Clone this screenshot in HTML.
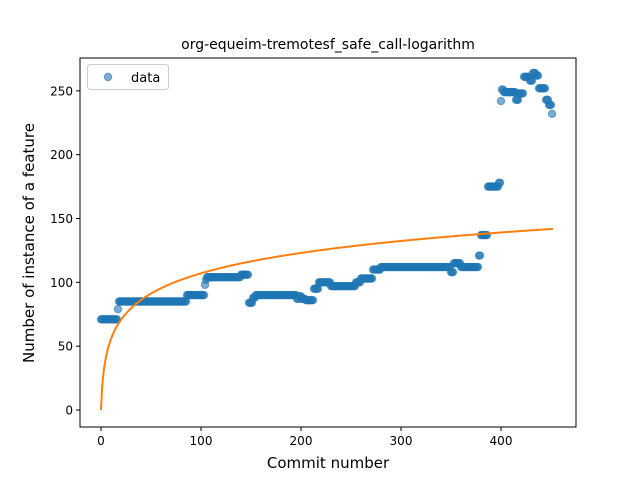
<!DOCTYPE html>
<html><head><meta charset="utf-8"><style>
html,body{margin:0;padding:0;background:#fff;}
svg{display:block;font-family:"DejaVu Sans","Liberation Sans",sans-serif;}
</style></head><body>
<svg id="chart" width="640" height="480" xmlns="http://www.w3.org/2000/svg">
<rect x="0" y="0" width="640" height="480" fill="#fff"/>
<text x="328" y="49" text-anchor="middle" font-size="14">org-equeim-tremotesf_safe_call-logarithm</text>
<g id="plot"></g>
<g id="axes"></g>
<text x="328" y="468" text-anchor="middle" font-size="15">Commit number</text>
<text transform="translate(34,243) rotate(-90)" text-anchor="middle" font-size="15">Number of instance of a feature</text>
<g>
<rect x="87.5" y="64.5" width="81" height="25" rx="3" fill="#fff" fill-opacity="0.8" stroke="#ccc"/>
<circle cx="108" cy="77" r="3.7" fill="#1f77b4" fill-opacity="0.6" stroke="#1f77b4" stroke-opacity="0.6" stroke-width="1"/>
<text x="131" y="82" font-size="13">data</text>
</g>
</svg>
<script>
// Data as runs of consecutive commits with constant value
const runStart = [0,17,18,86,104,105,106,140,148,152,155,196,198,201,205,213,218,230,255,260,272,280,350,353,360,378,380,387,398,400,401,403,415,418,423,429,432,435,438,445,448,451];
const runEnd   = [16,17,85,103,104,105,139,147,151,154,195,197,200,204,212,217,229,254,259,271,279,349,352,359,377,379,386,397,399,400,402,414,417,422,428,431,434,437,444,447,450,451];
const runValue = [71,79,85,90,98,102,104,106,84,88,90,87,89,87,86,95,100,97,100,103,110,112,108,115,112,121,137,175,178,242,251,249,243,248,261,258,264,262,252,243,239,232];
const xTicks = [0,100,200,300,400];
const yTicks = [0,50,100,150,200,250];
const fitA = 23.2;
const fitMaxX = 452;

const L=80,R=576,T=58,B=427;
const xs = v => 101 + v*1.0;
const ys = v => 410 - v*1.2766;
const NS="http://www.w3.org/2000/svg";
const plot=document.getElementById('plot'), axes=document.getElementById('axes');
function mk(tag,attrs,parent){const e=document.createElementNS(NS,tag);for(const k in attrs)e.setAttribute(k,attrs[k]);parent.appendChild(e);return e;}

for(let r=0;r<runStart.length;r++){
  for(let x=runStart[r];x<=runEnd[r];x++){
    const c=mk('circle',{cx:xs(x),cy:ys(runValue[r]),r:3.7,fill:'#1f77b4','fill-opacity':0.6,stroke:'#1f77b4','stroke-opacity':0.6,'stroke-width':1},plot);
    
    
  }
}
let d='';
for(let x=0;x<=fitMaxX;x+=1){d+=(x?'L':'M')+xs(x).toFixed(2)+','+ys(fitA*Math.log(x+1)).toFixed(2);}
const fl=mk('path',{d:d,fill:'none',stroke:'#ff7f0e','stroke-width':2},plot);



const frame=mk('rect',{x:L,y:T,width:R-L,height:B-T,fill:'none',stroke:'#000','stroke-width':1},axes);


xTicks.forEach(t=>{
  const x=xs(t);
  const tk=mk('line',{x1:x,x2:x,y1:B,y2:B+4,stroke:'#000'},axes);
  
  
  const lb=mk('text',{x:x,y:B+18,'text-anchor':'middle','font-size':12},axes);
  lb.textContent=t;
  
  
});
yTicks.forEach(t=>{
  const y=ys(t);
  const tk=mk('line',{x1:L-4,x2:L,y1:y,y2:y,stroke:'#000'},axes);
  
  
  const lb=mk('text',{x:L-7,y:y+4.5,'text-anchor':'end','font-size':12},axes);
  lb.textContent=t;
  
  
});
</script>
</body></html>
